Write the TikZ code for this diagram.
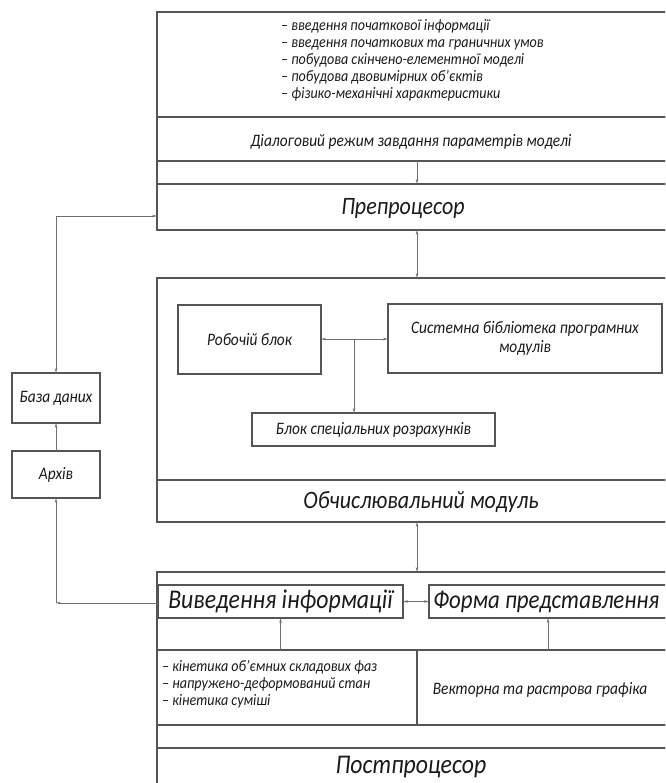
\documentclass[tikz,border=0pt]{standalone}
\usepackage{fontspec}
\setmainfont{Carlito}[FakeStretch=0.88]
\usetikzlibrary{arrows.meta}
\definecolor{boxc}{HTML}{555555}
\definecolor{linec}{HTML}{707070}
\definecolor{txtc}{HTML}{1A1A1A}
\tikzset{
  panel/.style={draw=boxc, line width=1.1pt, rectangle, inner sep=0pt, outer sep=0pt},
  arr/.style={draw=linec, line width=0.8pt, -{Stealth[length=5pt,width=2.6pt]}},
  barr/.style={draw=linec, line width=0.8pt, {Stealth[length=5pt,width=2.6pt]}-{Stealth[length=5pt,width=2.6pt]}},
  txt/.style={text=txtc, inner sep=0pt, font=\itshape},
  small/.style={font=\itshape\fontsize{16}{17}\selectfont},
  mid/.style={font=\itshape\fontsize{17.5}{19}\selectfont},
  big/.style={font=\itshape\fontsize{25}{28}\selectfont},
  huge/.style={font=\itshape\fontsize{27}{30}\selectfont},
}
\begin{document}
\begin{tikzpicture}[x=1pt, y=-1pt]
\useasboundingbox (0,0) rectangle (665,783);
\clip (0,0) rectangle (665,783);
% preprocessor block
\node[panel, minimum width=510, minimum height=105] (info) at (412,64.5) {};
\node[panel, minimum width=510, minimum height=44] (dialog) at (412,139) {};
\node[panel, minimum width=510, minimum height=23] (gapA) at (412,172.5) {};
\node[panel, minimum width=510, minimum height=46] (prep) at (412,207) {};
\node[txt, small, anchor=north west, align=left] (infotext) at (281,19)
 {– введення початкової інформації\\
  – введення початкових та граничних умов\\
  – побудова скінчено-елементної моделі\\
  – побудова двовимірних об'єктів\\
  – фізико-механічні характеристики};
\node[txt, mid] (dialogtext) at (411,142) {Діалоговий режим завдання параметрів моделі};
\node[txt, big] (preptext) at (403,209) {Препроцесор};
% computation block
\node[panel, minimum width=510, minimum height=202] (comp) at (412,379) {};
\node[panel, minimum width=510, minimum height=42] (compmod) at (412,501) {};
\node[txt, big] (comptext) at (421,502) {Обчислювальний модуль};
\node[panel, minimum width=143, minimum height=69, txt, mid] (work) at (249.5,339.5) {Робочій блок};
\node[panel, minimum width=274, minimum height=69, txt, mid, align=center] (syslib) at (525,338.5) {Системна бібліотека програмних\\модулів};
\node[panel, minimum width=243, minimum height=33, txt, mid] (special) at (373.5,429.5) {Блок спеціальних розрахунків};
% postprocessor block
\node[panel, minimum width=510, minimum height=78] (bottomtop) at (412,611) {};
\node[panel, minimum width=260, minimum height=75] (kinbox) at (287,687.5) {};
\node[panel, minimum width=250, minimum height=75] (vecbox) at (542,687.5) {};
\node[panel, minimum width=510, minimum height=23] (gapB) at (412,736.5) {};
\node[panel, minimum width=510, minimum height=52] (post) at (412,774) {};
\node[panel, minimum width=245, minimum height=33, txt, huge] (out) at (280.5,601.5) {Виведення інформації};
\node[panel, minimum width=238, minimum height=33] (form) at (548,601.5) {};
\node[txt, anchor=west, font=\itshape\fontsize{26}{29}\selectfont] (formtext) at (433,602) {Форма представлення};
\node[txt, small, anchor=north west, align=left] (kintext) at (162,660)
 {– кінетика об'ємних складових фаз\\
  – напружено-деформований стан\\
  – кінетика суміші};
\node[txt, mid] (vectext) at (540,690) {Векторна та растрова графіка};
\node[txt, huge] (posttext) at (411,767) {Постпроцесор};
% left side
\node[panel, minimum width=88, minimum height=50, txt, mid] (db) at (56,398) {База даних};
\node[panel, minimum width=88, minimum height=47, txt, mid] (arch) at (56,474.5) {Архів};
% connectors
\coordinate (cx) at (417,0);
\coordinate (pin) at (157,216);
\coordinate (cornerB) at (56,603);
\coordinate (jn) at (354,339);
\draw[arr] (dialog.south -| cx) -- (prep.north -| cx);
\draw[barr] (prep.south -| cx) -- (comp.north -| cx);
\draw[barr] (compmod.south -| cx) -- (bottomtop.north -| cx);
\draw[barr] (work.east |- jn) -- (syslib.west |- jn);
\draw[arr] (jn) -- (jn |- special.north);
\draw[barr] (out.east) -- (form.west);
\draw[arr] (out.south |- kinbox.north) -- (out.south);
\draw[arr] (form.south |- kinbox.north) -- (form.south);
\draw[barr] (db.north) |- (pin);
\draw[arr] (arch.north) -- (db.south);
\draw[arr] (out.west |- cornerB) -- (cornerB);
\draw[arr] (cornerB) -- (arch.south);
\end{tikzpicture}
\end{document}
